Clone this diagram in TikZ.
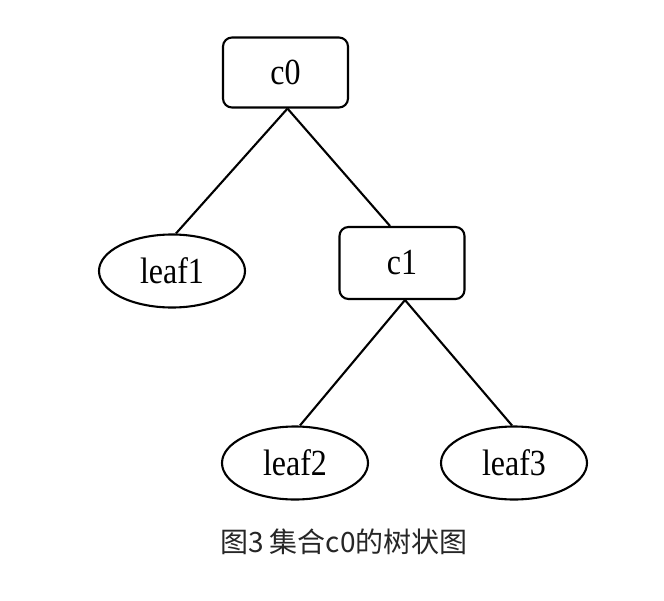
\documentclass[tikz,border=0pt]{standalone}
\usepackage{fontspec}
\setmainfont{Liberation Serif}
\newfontfamily\cjk{Noto Sans CJK SC}
\usetikzlibrary{shapes.geometric}
\tikzset{
  setbox/.style={draw, line width=2.1pt, rounded corners=9pt, minimum width=125pt, minimum height=70pt, inner sep=0pt, font=\fontsize{32}{32}\selectfont},
  leafnode/.style={draw, ellipse, line width=2.1pt, minimum width=146pt, minimum height=73pt, inner sep=0pt, font=\fontsize{32}{32}\selectfont},
  edge/.style={line width=2.1pt}
}
\newcommand{\tall}[1]{\scalebox{1}[1.15]{#1}}
\begin{document}
\begin{tikzpicture}[x=1pt,y=-1pt]
\useasboundingbox[fill=white] (0,0) rectangle (664,600);
\node[setbox] (c0) at (285.5,72.5) {\tall{c0}};
\node[leafnode] (leaf1) at (172,271) {\tall{leaf1}};
\node[setbox, minimum height=72pt] (c1) at (402,263) {\tall{c1}};
\node[leafnode] (leaf2) at (295,463) {\tall{leaf2}};
\node[leafnode] (leaf3) at (514,463) {\tall{leaf3}};
\draw[edge] ([xshift=2pt]c0.south) -- ([xshift=4pt]leaf1.north);
\draw[edge] ([xshift=2pt]c0.south) -- ([xshift=-12pt]c1.north);
\draw[edge] ([xshift=3pt]c1.south) -- ([xshift=5pt]leaf2.north);
\draw[edge] ([xshift=3pt]c1.south) -- ([xshift=-2pt]leaf3.north);
\node[text=black!85, font=\cjk\fontsize{28}{28}\selectfont] (cap) at (344,542) {图3 集合c0的树状图};
\end{tikzpicture}
\end{document}
